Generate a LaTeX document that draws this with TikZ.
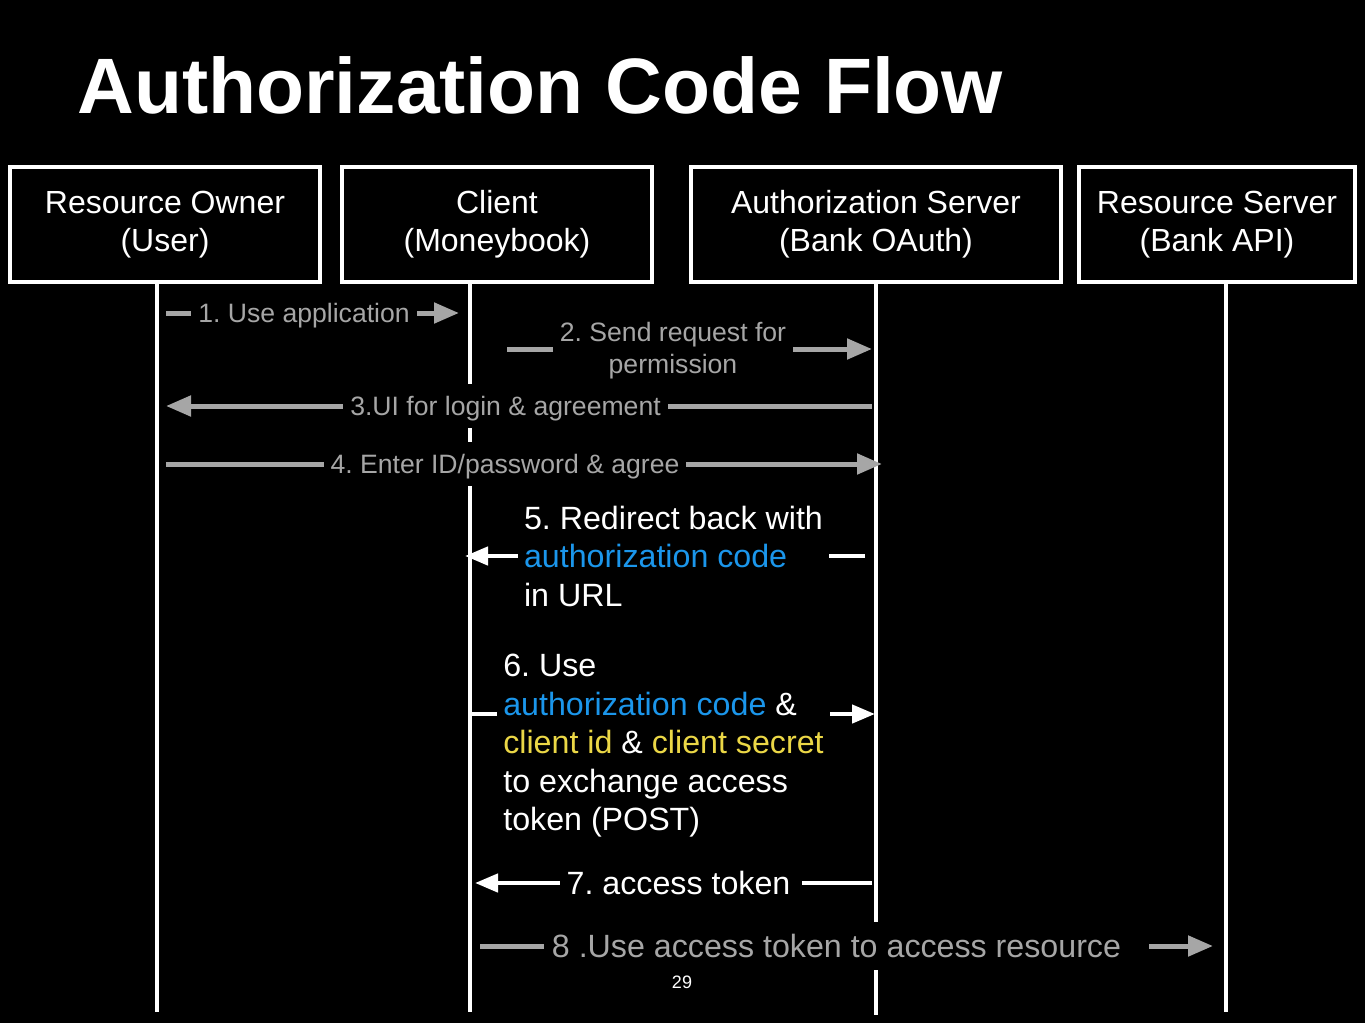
\documentclass[tikz,border=0pt]{standalone}
\usepackage{fontspec}
\setmainfont{Liberation Sans}
\usetikzlibrary{arrows.meta}
\frenchspacing
\definecolor{msggray}{RGB}{166,166,166}
\definecolor{codeblue}{RGB}{27,150,235}
\definecolor{keyyellow}{RGB}{235,215,70}
\tikzset{
  actor/.style={draw=white,line width=1.9pt,fill=black,text=white,align=center,
    minimum height=57.5pt,font=\fontsize{16}{19}\selectfont},
  life/.style={white,line width=1.6pt},
  graymsg/.style={msggray,line width=2.5pt,-{Triangle[length=12.5pt,width=10pt]}},
  whitemsg/.style={white,line width=2.2pt,-{Triangle[length=11.5pt,width=9pt]}},
  graylab/.style={fill=black,text=msggray,inner xsep=3.5pt,inner ysep=3.2pt,
    font=\fontsize{13.3}{16}\selectfont},
  whitelab/.style={fill=black,text=white,inner xsep=3pt,inner ysep=3pt,
    font=\fontsize{16.1}{19.25}\selectfont},
  grayline/.style={text height=12.4pt,text depth=2.8pt},
  whiteline/.style={text height=15pt,text depth=3.4pt,inner ysep=2.8pt},
}
\begin{document}
\begin{tikzpicture}[x=0.5pt,y=-0.5pt]
  % ------ fond --------------
  \fill[black] (0,0) rectangle (1365,1023);
  \useasboundingbox (0,0) rectangle (1365,1023);

  \node[anchor=base west,inner sep=0,text=white,font=\bfseries\fontsize{39.3}{47}\selectfont]
    (title) at (77,113) {Authorization Code Flow};

  % ------ acteurs --------------
  \node[actor,minimum width=155pt] (owner) at (165,224.5) {Resource Owner\\(User)};
  \node[actor,minimum width=155pt] (client) at (497,224.5) {Client\\(Moneybook)};
  \node[actor,minimum width=185pt] (authsrv) at (876,224.5) {Authorization Server\\(Bank OAuth)};
  \node[actor,minimum width=138pt] (ressrv) at (1217,224.5) {Resource Server\\(Bank API)};

  % ------ lignes de vie --------------
  \coordinate (L1) at (157,1012);
  \coordinate (L2) at (470,1012);
  \coordinate (L3) at (876,1015);
  \coordinate (L4) at (1226,1012);
  \draw[life] (owner.south -| L1) -- (L1);
  \draw[life] (client.south -| L2) -- (L2);
  \draw[life] (authsrv.south -| L3) -- (L3);
  \draw[life] (ressrv.south -| L4) -- (L4);

  % ------ messages --------------
  \coordinate (M1a) at (166,313);  \coordinate (M1b) at (459,313);
  \coordinate (M2a) at (507,349);  \coordinate (M2b) at (872,349);
  \coordinate (M3a) at (872,406);  \coordinate (M3b) at (166,406);
  \coordinate (M4a) at (166,464);  \coordinate (M4b) at (882,464);
  \coordinate (M5a) at (865,556);  \coordinate (M5b) at (465,556);
  \coordinate (M6a) at (470,714);  \coordinate (M6b) at (875,714);
  \coordinate (M7a) at (872,883);  \coordinate (M7b) at (475,883);
  \coordinate (M8a) at (480,946);  \coordinate (M8b) at (1213,946);

  \draw[graymsg] (M1a) -- node[graylab,grayline,xshift=-4.25pt] (lab1) {1. Use application} (M1b);
  \draw[graymsg] (M2a) -- node[graylab,align=center,xshift=-8.25pt,yshift=-1pt] (lab2)
    {2. Send request for\\permission} (M2b);
  \draw[graymsg] (M3a) -- node[graylab,grayline,xshift=-6.75pt] (lab3) {3.UI for login \& agreement} (M3b);
  \draw[graymsg] (M4a) -- node[graylab,grayline,xshift=-9.5pt] (lab4) {4. Enter ID/password \& agree} (M4b);

  \draw[whitemsg] (M5a) -- node[whitelab,align=left,xshift=4.25pt] (lab5)
    {5. Redirect back with\\\textcolor{codeblue}{authorization code}\\in URL} (M5b);
  \draw[whitemsg] (M6a) -- node[whitelab,align=left,xshift=-4.5pt,yshift=-15.9pt] (lab6)
    {6. Use\\\textcolor{codeblue}{authorization code} \&\\\textcolor{keyyellow}{client id} \&
     \textcolor{keyyellow}{client secret}\\to exchange access\\token (POST)} (M6b);
  \draw[whitemsg] (M7a) -- node[whitelab,whiteline,inner xsep=3.5pt,xshift=3.75pt] (lab7)
    {7. access token\hspace*{2.5pt}} (M7b);
  \draw[graymsg] (M8a) -- node[whitelab,whiteline,text=msggray,inner xsep=4pt] (lab8)
    {8 .Use access token to access resource\hspace*{10pt}} (M8b);

  \node[text=white,font=\fontsize{9}{11}\selectfont] (page) at (682,982) {29};
\end{tikzpicture}
\end{document}
